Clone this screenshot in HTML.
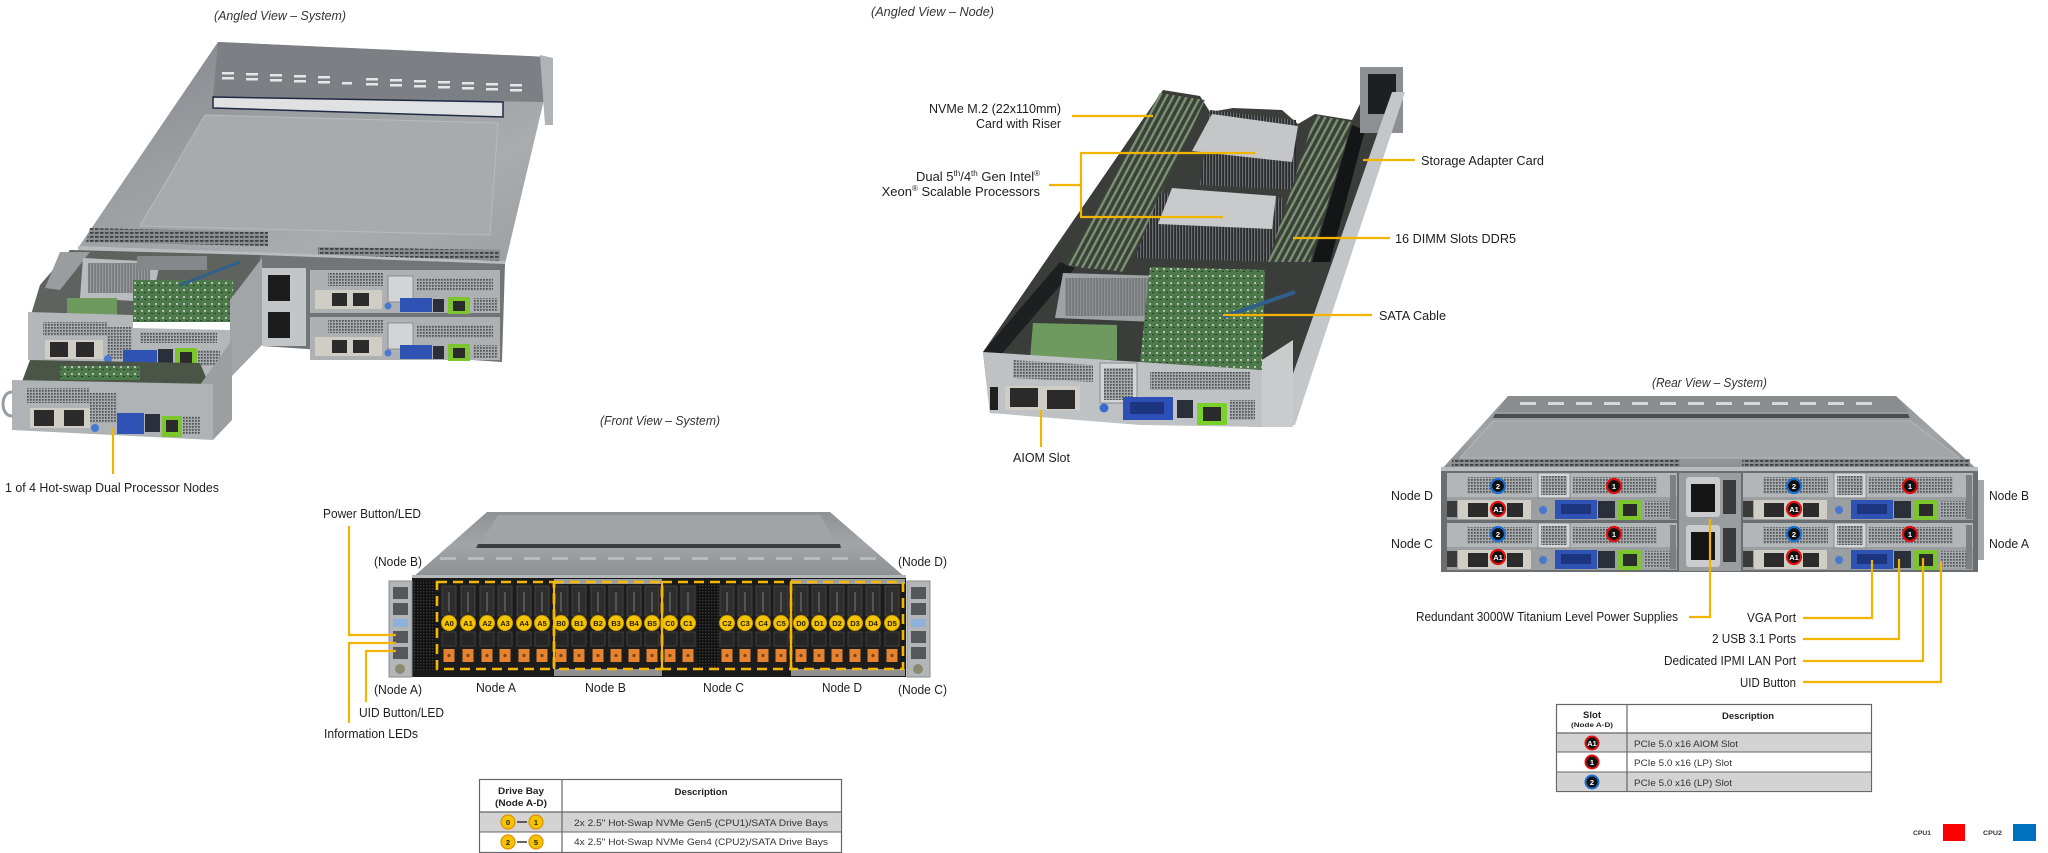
<!DOCTYPE html>
<html><head><meta charset="utf-8">
<style>
html,body{margin:0;padding:0;background:#fff;}
body{width:2048px;height:853px;overflow:hidden;}
svg{display:block}
text{font-family:"Liberation Sans",Arial,sans-serif;}
.l{font-size:13px;fill:#1e1e1e;}
.ti{font-size:13px;font-style:italic;fill:#333;}
.ld{fill:none;stroke:#f2b400;stroke-width:2.2;}
.bc{font-size:7.5px;font-weight:bold;fill:#2b2000;text-anchor:middle;}
.wc{font-size:7.5px;font-weight:bold;fill:#fff;text-anchor:middle;}
.tb{font-size:9.5px;fill:#333;}
.th{font-size:9.5px;font-weight:bold;fill:#222;text-anchor:middle;}
</style></head><body>
<svg width="2048" height="853" viewBox="0 0 2048 853" xmlns="http://www.w3.org/2000/svg">
<defs>
<linearGradient id="gCover" x1="0" y1="0" x2="1" y2="1">
<stop offset="0" stop-color="#7f8286"/><stop offset=".35" stop-color="#9a9da0"/><stop offset=".7" stop-color="#a9acaf"/><stop offset="1" stop-color="#9c9fa2"/></linearGradient>
<linearGradient id="gTop" x1="0" y1="0" x2="0" y2="1">
<stop offset="0" stop-color="#8f9295"/><stop offset=".5" stop-color="#a2a5a8"/><stop offset="1" stop-color="#8c8f92"/></linearGradient>
<pattern id="vent" width="5" height="4" patternUnits="userSpaceOnUse"><rect width="5" height="4" fill="#8a8d90"/><rect width="3.5" height="1.8" fill="#3e4144"/></pattern>
<pattern id="grill" width="3" height="3" patternUnits="userSpaceOnUse"><rect width="3" height="3" fill="#a6a9ab"/><rect width="1.7" height="1.7" fill="#505356"/></pattern>
<pattern id="mesh" width="3" height="3" patternUnits="userSpaceOnUse"><rect width="3" height="3" fill="#111"/><rect width="1.4" height="1.4" fill="#3a3a3a"/></pattern>
<pattern id="dimm" width="6" height="6" patternUnits="userSpaceOnUse" patternTransform="rotate(28)"><rect width="6" height="6" fill="#39423a"/><rect width="2.4" height="6" fill="#7e9070"/></pattern>
<pattern id="fins" width="3" height="4" patternUnits="userSpaceOnUse"><rect width="3" height="4" fill="#2a2c2d"/><rect width="1.2" height="4" fill="#6d7073"/></pattern>
<pattern id="board" width="7" height="7" patternUnits="userSpaceOnUse"><rect width="7" height="7" fill="#4d7a4b"/><rect x="1" y="2" width="2" height="2" fill="#b9c0b5"/><rect x="4" y="5" width="2" height="1" fill="#2a3a2a"/></pattern>
<g id="bay">
 <rect x="-8.5" y="584" width="17" height="85" fill="#1d1d1d"/>
 <rect x="-7" y="586" width="14" height="30" fill="#2e2e2e" stroke="#4a4a4a" stroke-width=".8"/>
 <rect x="-1" y="592" width="2" height="20" fill="#555"/>
 <rect x="-7" y="632" width="14" height="14" fill="#262626" stroke="#474747" stroke-width=".8"/>
 <rect x="-5.5" y="649" width="11" height="13" fill="#e58330"/>
 <circle cx="0" cy="655.5" r="1.6" fill="#7a4412"/>
 <circle cx="0" cy="623" r="7.6" fill="#f4c400" stroke="#c99400" stroke-width=".8"/>
</g>
<g id="rnode">
 <rect x="0" y="0" width="230" height="47" fill="#b3b6b8"/>
 <rect x="0" y="24" width="230" height="23" fill="#9c9fa1"/>
 <rect x="20" y="4" width="65" height="17" fill="url(#grill)"/>
 <rect x="91" y="0" width="32" height="25" fill="#d4d6d7" stroke="#7a7d80" stroke-width=".8"/>
 <rect x="94" y="3" width="26" height="19" fill="url(#grill)"/>
 <rect x="126" y="4" width="84" height="17" fill="url(#grill)"/>
 <rect x="223" y="2" width="6" height="44" fill="#7d8083"/>
 <rect x="0" y="28" width="10" height="16" fill="#3a3a3a"/>
 <rect x="11" y="27" width="73" height="19" fill="#cfcdc4"/>
 <rect x="21" y="30" width="20" height="14" fill="#2b2b2b"/>
 <rect x="60" y="30" width="16" height="14" fill="#2b2b2b"/>
 <circle cx="96" cy="37" r="4" fill="#4a78d0"/>
 <rect x="108" y="27" width="42" height="19" fill="#2f52b5"/>
 <rect x="114" y="31" width="30" height="10" fill="#1d357e"/>
 <rect x="151" y="28" width="17" height="17" fill="#2a2f3a"/>
 <rect x="171" y="27" width="24" height="20" fill="#7cc52c"/>
 <rect x="176" y="31" width="14" height="12" fill="#2b2b2b"/>
 <rect x="197" y="28" width="26" height="17" fill="url(#grill)"/>
</g>
</defs>

<!-- ================= ANGLED SYSTEM ================= -->
<text class="ti" x="214" y="20" textLength="132" lengthAdjust="spacingAndGlyphs">(Angled View – System)</text>
<polygon points="218,42 548,57 553,62 505,264 78,248" fill="url(#gCover)"/>
<polygon points="218,42 548,57 546,102 213,97" fill="#7c7f83"/>
<g fill="#e4e6e7">
<rect x="222" y="72" width="12" height="2.5"/><rect x="222" y="77" width="12" height="2.5"/>
<rect x="246" y="73" width="12" height="2.5"/><rect x="246" y="78" width="12" height="2.5"/>
<rect x="270" y="74" width="12" height="2.5"/><rect x="270" y="79" width="12" height="2.5"/>
<rect x="294" y="75" width="12" height="2.5"/><rect x="294" y="80" width="12" height="2.5"/>
<rect x="318" y="76" width="12" height="2.5"/><rect x="318" y="81" width="12" height="2.5"/>
<rect x="342" y="82" width="10" height="2.5"/>
<rect x="366" y="78" width="12" height="2.5"/><rect x="366" y="83" width="12" height="2.5"/>
<rect x="390" y="79" width="12" height="2.5"/><rect x="390" y="84" width="12" height="2.5"/>
<rect x="414" y="80" width="12" height="2.5"/><rect x="414" y="85" width="12" height="2.5"/>
<rect x="438" y="81" width="12" height="2.5"/><rect x="438" y="86" width="12" height="2.5"/>
<rect x="462" y="82" width="12" height="2.5"/><rect x="462" y="87" width="12" height="2.5"/>
<rect x="486" y="83" width="12" height="2.5"/><rect x="486" y="88" width="12" height="2.5"/>
<rect x="510" y="84" width="12" height="2.5"/><rect x="510" y="89" width="12" height="2.5"/>
</g>
<polygon points="213,97 503,102 503,117 213,108" fill="#dfe1e3" stroke="#1e2a45" stroke-width="1.5"/>
<polygon points="205,115 498,123 490,235 140,226" fill="#a8abae" stroke="#b8bbbe" stroke-width="1"/>
<polygon points="540,55 553,58 553,125 545,125" fill="#b0b3b5"/>
<polygon points="90,228 268,232 268,246 86,242" fill="url(#vent)"/>
<polygon points="318,247 500,250 500,262 318,259" fill="url(#vent)"/>
<polygon points="78,246 505,261 505,266 78,251" fill="#b9bcbe"/>
<!-- rear right half -->
<polygon points="260,255 505,264 502,362 262,346" fill="#727578"/>
<rect x="262" y="268" width="44" height="78" fill="#c3c6c8"/>
<rect x="268" y="275" width="22" height="26" fill="#1c1c1c"/>
<rect x="268" y="312" width="22" height="26" fill="#1c1c1c"/>
<g>
<rect x="310" y="270" width="190" height="43" fill="#aeb1b3"/>
<rect x="328" y="273" width="55" height="13" fill="url(#grill)"/>
<rect x="388" y="276" width="25" height="26" fill="#d2d4d5" stroke="#777" stroke-width=".7"/>
<rect x="417" y="278" width="76" height="13" fill="url(#grill)"/>
<rect x="315" y="290" width="67" height="19" fill="#cfcdc4"/>
<rect x="332" y="293" width="15" height="13" fill="#2b2b2b"/><rect x="353" y="293" width="16" height="13" fill="#2b2b2b"/>
<circle cx="388" cy="306" r="3.5" fill="#4a78d0"/>
<rect x="400" y="298" width="32" height="14" fill="#2f52b5"/>
<rect x="433" y="299" width="11" height="13" fill="#2a2f3a"/>
<rect x="448" y="297" width="22" height="17" fill="#7cc52c"/><rect x="453" y="301" width="12" height="10" fill="#2b2b2b"/>
<rect x="473" y="298" width="25" height="13" fill="url(#grill)"/>
</g>
<g transform="translate(0,47)">
<rect x="310" y="270" width="190" height="43" fill="#aeb1b3"/>
<rect x="328" y="273" width="55" height="13" fill="url(#grill)"/>
<rect x="388" y="276" width="25" height="26" fill="#d2d4d5" stroke="#777" stroke-width=".7"/>
<rect x="417" y="278" width="76" height="13" fill="url(#grill)"/>
<rect x="315" y="290" width="67" height="19" fill="#cfcdc4"/>
<rect x="332" y="293" width="15" height="13" fill="#2b2b2b"/><rect x="353" y="293" width="16" height="13" fill="#2b2b2b"/>
<circle cx="388" cy="306" r="3.5" fill="#4a78d0"/>
<rect x="400" y="298" width="32" height="14" fill="#2f52b5"/>
<rect x="433" y="299" width="11" height="13" fill="#2a2f3a"/>
<rect x="448" y="297" width="22" height="17" fill="#7cc52c"/><rect x="453" y="301" width="12" height="10" fill="#2b2b2b"/>
<rect x="473" y="298" width="25" height="13" fill="url(#grill)"/>
</g>
<!-- upper pulled node -->
<polygon points="70,250 260,255 260,300 230,322 30,318 40,285" fill="#5f635f"/>
<polygon points="60,252 90,252 60,290 45,288" fill="#9a9d9f"/>
<polygon points="83,258 160,262 152,302 80,298" fill="#b9bcbe"/>
<rect x="88" y="263" width="62" height="30" fill="url(#fins)" opacity=".45"/>
<rect x="137" y="256" width="70" height="14" fill="#85888b"/>
<rect x="133" y="280" width="100" height="42" fill="url(#board)"/>
<rect x="67" y="298" width="50" height="22" fill="#6f9a5f"/>
<line x1="180" y1="285" x2="240" y2="262" stroke="#2f5f8a" stroke-width="3"/>
<polygon points="230,300 262,258 262,345 230,378" fill="#a2a5a7"/>
<polygon points="28,312 133,315 133,328 230,330 230,378 110,376 110,363 28,360" fill="#b4b7b9"/>
<rect x="43" y="322" width="64" height="14" fill="url(#grill)"/>
<rect x="45" y="340" width="58" height="19" fill="#cfcdc4"/>
<rect x="50" y="342" width="18" height="15" fill="#2b2b2b"/><rect x="76" y="342" width="18" height="15" fill="#2b2b2b"/>
<rect x="107" y="327" width="25" height="32" fill="url(#grill)"/>
<circle cx="108" cy="359" r="4" fill="#4a78d0"/>
<rect x="140" y="332" width="77" height="11" fill="url(#grill)"/>
<rect x="123" y="350" width="34" height="17" fill="#2f52b5"/>
<rect x="158" y="349" width="15" height="17" fill="#2a2f3a"/>
<rect x="175" y="348" width="22" height="20" fill="#7cc52c"/><rect x="180" y="352" width="12" height="11" fill="#2b2b2b"/>
<rect x="198" y="350" width="22" height="16" fill="url(#grill)"/>
<!-- lower pulled node -->
<polygon points="30,360 200,363 210,387 20,387" fill="#4a5548"/>
<rect x="60" y="366" width="80" height="14" fill="url(#board)"/>
<polygon points="200,385 232,340 232,420 213,440" fill="#9c9fa2"/>
<polygon points="12,380 213,384 213,440 12,430" fill="#b0b3b5"/>
<rect x="27" y="388" width="63" height="15" fill="url(#grill)"/>
<rect x="30" y="408" width="60" height="20" fill="#cfcdc4"/>
<rect x="34" y="410" width="20" height="16" fill="#2b2b2b"/><rect x="64" y="410" width="20" height="16" fill="#2b2b2b"/>
<rect x="90" y="393" width="27" height="30" fill="url(#grill)"/>
<circle cx="95" cy="428" r="4" fill="#4a78d0"/>
<rect x="117" y="413" width="27" height="21" fill="#2f52b5"/>
<rect x="145" y="414" width="15" height="18" fill="#2a2f3a"/>
<rect x="162" y="416" width="20" height="21" fill="#7cc52c"/><rect x="166" y="420" width="12" height="12" fill="#2b2b2b"/>
<rect x="183" y="416" width="17" height="18" fill="url(#grill)"/>
<path d="M12,392 C0,392 0,416 12,416" fill="none" stroke="#9a9da0" stroke-width="3"/>
<line class="ld" x1="113" y1="428" x2="113" y2="474"/>
<text class="l" x="5" y="492" textLength="214" lengthAdjust="spacingAndGlyphs">1 of 4 Hot-swap  Dual Processor Nodes</text>

<!-- ================= ANGLED NODE ================= -->
<text class="ti" x="871" y="16" textLength="123" lengthAdjust="spacingAndGlyphs">(Angled View – Node)</text>
<polygon points="1163,90 1200,96 1210,112 1233,108 1282,110 1298,124 1315,114 1352,120 1362,100 1362,67 1403,67 1403,100 1290,420 1262,427 990,413 983,352" fill="#3a3d3a"/>
<polygon points="983,352 1060,262 1075,268 1000,356" fill="#1e1f20"/>
<polygon points="1160,93 1205,100 1125,272 1065,265" fill="url(#dimm)"/>
<polygon points="1143,160 1175,165 1110,270 1080,268" fill="url(#dimm)" opacity=".8"/>
<polygon points="1210,110 1296,120 1296,190 1200,185" fill="url(#fins)"/>
<polygon points="1212,114 1298,126 1292,162 1192,151" fill="#c4c6c7"/>
<polygon points="1160,193 1282,198 1282,262 1135,258" fill="url(#fins)"/>
<polygon points="1172,188 1276,196 1272,229 1158,224" fill="#c8cacb"/>
<polygon points="1315,115 1352,122 1310,262 1268,262" fill="url(#dimm)"/>
<polygon points="1352,125 1365,130 1330,262 1312,262" fill="#141516"/>
<polygon points="1360,67 1403,67 1403,133 1360,133" fill="#8d9093"/>
<rect x="1368" y="74" width="28" height="40" fill="#1e1f20"/>
<polygon points="1392,92 1405,92 1295,425 1275,425" fill="#c4c7c9"/>
<polygon points="1063,273 1163,276 1155,322 1055,318" fill="#9fa2a4"/>
<rect x="1065" y="278" width="88" height="38" fill="url(#fins)" opacity=".35"/>
<polygon points="1150,267 1265,270 1262,370 1140,362" fill="url(#board)"/>
<polygon points="1033,323 1117,325 1117,360 1030,358" fill="#6f9a5f"/>
<line x1="1223" y1="317" x2="1295" y2="292" stroke="#2f5f8a" stroke-width="4"/>
<polygon points="1262,360 1293,340 1293,427 1262,427" fill="#c9cbcd"/>
<polygon points="983,352 1140,362 1262,370 1262,427 1140,425 990,413" fill="#bfc2c4"/>
<polygon points="1013,360 1093,365 1093,382 1013,378" fill="url(#grill)"/>
<rect x="990" y="387" width="8" height="23" fill="#1f1f1f"/>
<rect x="1005" y="386" width="75" height="24" fill="#cfcdc4"/>
<rect x="1010" y="388" width="28" height="19" fill="#2a2a2a"/><rect x="1047" y="390" width="28" height="19" fill="#2a2a2a"/>
<rect x="1100" y="363" width="37" height="40" fill="#d2d4d5" stroke="#777" stroke-width=".8"/>
<rect x="1104" y="368" width="29" height="32" fill="url(#grill)"/>
<circle cx="1104" cy="408" r="4.5" fill="#3c6ad0"/>
<rect x="1123" y="397" width="50" height="23" fill="#2d4fb8"/>
<rect x="1130" y="402" width="34" height="12" fill="#1d357e"/>
<rect x="1177" y="400" width="16" height="18" fill="#2a2f3a"/>
<rect x="1197" y="403" width="30" height="22" fill="#79d12a"/><rect x="1203" y="407" width="18" height="14" fill="#2b2b2b"/>
<rect x="1150" y="372" width="100" height="18" fill="url(#grill)"/>
<rect x="1230" y="400" width="25" height="20" fill="url(#grill)"/>
<!-- node leaders -->
<line class="ld" x1="1072" y1="116" x2="1153" y2="116"/>
<polyline class="ld" points="1255,153 1081,153 1081,217 1223,217"/>
<line class="ld" x1="1049" y1="185" x2="1081" y2="185"/>
<line class="ld" x1="1363" y1="160" x2="1415" y2="160"/>
<line class="ld" x1="1293" y1="238" x2="1390" y2="238"/>
<line class="ld" x1="1223" y1="315" x2="1372" y2="315"/>
<line class="ld" x1="1041" y1="410" x2="1041" y2="447"/>
<text class="l" x="1061" y="113" text-anchor="end" textLength="132" lengthAdjust="spacingAndGlyphs">NVMe M.2 (22x110mm)</text>
<text class="l" x="1061" y="128" text-anchor="end" textLength="85" lengthAdjust="spacingAndGlyphs">Card with Riser</text>
<text class="l" x="1040" y="181" text-anchor="end">Dual 5<tspan font-size="8" dy="-5">th</tspan><tspan dy="5">/4</tspan><tspan font-size="8" dy="-5">th</tspan><tspan dy="5"> Gen Intel</tspan><tspan font-size="8" dy="-5">®</tspan></text>
<text class="l" x="1040" y="196" text-anchor="end">Xeon<tspan font-size="8" dy="-5">®</tspan><tspan dy="5"> Scalable Processors</tspan></text>
<text class="l" x="1421" y="165" textLength="123" lengthAdjust="spacingAndGlyphs">Storage Adapter Card</text>
<text class="l" x="1395" y="243" textLength="121" lengthAdjust="spacingAndGlyphs">16 DIMM Slots DDR5</text>
<text class="l" x="1379" y="320" textLength="67" lengthAdjust="spacingAndGlyphs">SATA Cable</text>
<text class="l" x="1013" y="462" textLength="57" lengthAdjust="spacingAndGlyphs">AIOM Slot</text>

<!-- ================= FRONT VIEW ================= -->
<text class="ti" x="600" y="425" textLength="120" lengthAdjust="spacingAndGlyphs">(Front View – System)</text>
<polygon points="487,512 830,512 906,578 412,578" fill="url(#gTop)"/>
<polygon points="498,515 820,515 836,544 480,544" fill="#a1a4a7"/>
<polygon points="478,544 840,544 841,548 476,548" fill="#3c3e40"/>
<g fill="#b8bbbd">
<rect x="440" y="557" width="16" height="3"/><rect x="468" y="557" width="16" height="3"/><rect x="496" y="557" width="16" height="3"/><rect x="524" y="557" width="16" height="3"/><rect x="552" y="557" width="16" height="3"/><rect x="580" y="557" width="16" height="3"/><rect x="608" y="557" width="16" height="3"/><rect x="636" y="557" width="16" height="3"/><rect x="664" y="557" width="16" height="3"/><rect x="692" y="557" width="16" height="3"/><rect x="720" y="557" width="16" height="3"/><rect x="748" y="557" width="16" height="3"/><rect x="776" y="557" width="16" height="3"/><rect x="804" y="557" width="16" height="3"/><rect x="832" y="557" width="16" height="3"/><rect x="860" y="557" width="16" height="3"/>
</g>
<rect x="412" y="575" width="494" height="4" fill="#b5b8ba"/>
<rect x="412" y="578" width="494" height="99" fill="#1a1a1a"/>
<rect x="414" y="580" width="23" height="90" fill="url(#mesh)"/>
<rect x="697" y="582" width="22" height="88" fill="url(#mesh)"/>
<rect x="554" y="579" width="108" height="5" fill="#9a9c9e"/>
<rect x="554" y="669" width="108" height="7" fill="#8e9092"/>
<rect x="791" y="579" width="114" height="5" fill="#9a9c9e"/>
<rect x="791" y="669" width="114" height="7" fill="#8e9092"/>
<!-- ears -->
<rect x="389" y="581" width="23" height="96" fill="#b3b6b8" stroke="#8a8d90" stroke-width="1"/>
<rect x="393" y="587" width="15" height="12" fill="#55585b"/><rect x="393" y="603" width="15" height="12" fill="#55585b"/>
<rect x="393" y="619" width="15" height="8" fill="#8fb0d8"/>
<rect x="393" y="631" width="15" height="12" fill="#55585b"/><rect x="393" y="647" width="15" height="12" fill="#55585b"/>
<circle cx="400" cy="669" r="5" fill="#8a8a70"/>
<rect x="907" y="581" width="23" height="96" fill="#b3b6b8" stroke="#8a8d90" stroke-width="1"/>
<rect x="911" y="587" width="15" height="12" fill="#55585b"/><rect x="911" y="603" width="15" height="12" fill="#55585b"/>
<rect x="911" y="619" width="15" height="8" fill="#8fb0d8"/>
<rect x="911" y="631" width="15" height="12" fill="#55585b"/><rect x="911" y="647" width="15" height="12" fill="#55585b"/>
<circle cx="918" cy="669" r="5" fill="#8a8a70"/>
<!-- bays -->
<use href="#bay" x="449"/><use href="#bay" x="468"/><use href="#bay" x="487"/><use href="#bay" x="505"/><use href="#bay" x="524"/><use href="#bay" x="542"/>
<use href="#bay" x="561"/><use href="#bay" x="579"/><use href="#bay" x="598"/><use href="#bay" x="616"/><use href="#bay" x="634"/><use href="#bay" x="652"/>
<use href="#bay" x="670"/><use href="#bay" x="688"/><use href="#bay" x="727"/><use href="#bay" x="745"/><use href="#bay" x="763"/><use href="#bay" x="781"/>
<use href="#bay" x="801"/><use href="#bay" x="819"/><use href="#bay" x="837"/><use href="#bay" x="855"/><use href="#bay" x="873"/><use href="#bay" x="892"/>
<g class="bc">
<text class="bc" x="449" y="626">A0</text><text class="bc" x="468" y="626">A1</text><text class="bc" x="487" y="626">A2</text><text class="bc" x="505" y="626">A3</text><text class="bc" x="524" y="626">A4</text><text class="bc" x="542" y="626">A5</text>
<text class="bc" x="561" y="626">B0</text><text class="bc" x="579" y="626">B1</text><text class="bc" x="598" y="626">B2</text><text class="bc" x="616" y="626">B3</text><text class="bc" x="634" y="626">B4</text><text class="bc" x="652" y="626">B5</text>
<text class="bc" x="670" y="626">C0</text><text class="bc" x="688" y="626">C1</text><text class="bc" x="727" y="626">C2</text><text class="bc" x="745" y="626">C3</text><text class="bc" x="763" y="626">C4</text><text class="bc" x="781" y="626">C5</text>
<text class="bc" x="801" y="626">D0</text><text class="bc" x="819" y="626">D1</text><text class="bc" x="837" y="626">D2</text><text class="bc" x="855" y="626">D3</text><text class="bc" x="873" y="626">D4</text><text class="bc" x="892" y="626">D5</text>
</g>
<g fill="none" stroke="#f5b800" stroke-width="2.6" stroke-dasharray="10,6">
<rect x="437" y="582" width="117" height="87"/>
<rect x="554" y="582" width="108" height="87"/>
<rect x="662" y="582" width="129" height="87"/>
<rect x="791" y="582" width="112" height="87"/>
</g>
<line x1="554" y1="582" x2="554" y2="669" stroke="#f5b800" stroke-width="2"/>
<line x1="662" y1="582" x2="662" y2="669" stroke="#f5b800" stroke-width="2"/>
<line x1="791" y1="582" x2="791" y2="669" stroke="#f5b800" stroke-width="2"/>
<polyline class="ld" points="349,526 349,635 396,635"/>
<polyline class="ld" points="396,643 349,643 349,723"/>
<polyline class="ld" points="396,651 366,651 366,702"/>
<text class="l" x="323" y="518" textLength="98" lengthAdjust="spacingAndGlyphs">Power Button/LED</text>
<text class="l" x="374" y="566" textLength="48" lengthAdjust="spacingAndGlyphs">(Node B)</text>
<text class="l" x="898" y="566" textLength="49" lengthAdjust="spacingAndGlyphs">(Node D)</text>
<text class="l" x="374" y="694" textLength="48" lengthAdjust="spacingAndGlyphs">(Node A)</text>
<text class="l" x="898" y="694" textLength="49" lengthAdjust="spacingAndGlyphs">(Node C)</text>
<text class="l" x="476" y="692" textLength="40" lengthAdjust="spacingAndGlyphs">Node A</text>
<text class="l" x="585" y="692" textLength="41" lengthAdjust="spacingAndGlyphs">Node B</text>
<text class="l" x="703" y="692" textLength="41" lengthAdjust="spacingAndGlyphs">Node C</text>
<text class="l" x="822" y="692" textLength="40" lengthAdjust="spacingAndGlyphs">Node D</text>
<text class="l" x="359" y="717" textLength="85" lengthAdjust="spacingAndGlyphs">UID Button/LED</text>
<text class="l" x="324" y="738" textLength="94" lengthAdjust="spacingAndGlyphs">Information  LEDs</text>

<!-- front table -->
<rect x="479.5" y="779.5" width="362" height="73" fill="#fff" stroke="#666" stroke-width="1.2"/>
<rect x="480" y="812" width="361" height="20" fill="#d3d3d3"/>
<line x1="480" y1="812" x2="841" y2="812" stroke="#666" stroke-width="1.2"/>
<line x1="480" y1="832" x2="841" y2="832" stroke="#666" stroke-width="1"/>
<line x1="562" y1="780" x2="562" y2="852" stroke="#666" stroke-width="1.2"/>
<text class="th" x="521" y="794" textLength="46" lengthAdjust="spacingAndGlyphs">Drive Bay</text>
<text class="th" x="521" y="806" textLength="52" lengthAdjust="spacingAndGlyphs">(Node A-D)</text>
<text class="th" x="701" y="795" textLength="53" lengthAdjust="spacingAndGlyphs">Description</text>
<circle cx="508" cy="822" r="7" fill="#f4c400" stroke="#e09000" stroke-width="1.2"/>
<circle cx="536" cy="822" r="7" fill="#f4c400" stroke="#e09000" stroke-width="1.2"/>
<line x1="517" y1="822" x2="527" y2="822" stroke="#333" stroke-width="1.5"/>
<text class="bc" x="508" y="825">0</text><text class="bc" x="536" y="825">1</text>
<circle cx="508" cy="842" r="7" fill="#f4c400" stroke="#e09000" stroke-width="1.2"/>
<circle cx="536" cy="842" r="7" fill="#f4c400" stroke="#e09000" stroke-width="1.2"/>
<line x1="517" y1="842" x2="527" y2="842" stroke="#333" stroke-width="1.5"/>
<text class="bc" x="508" y="845">2</text><text class="bc" x="536" y="845">5</text>
<text class="tb" x="574" y="826" textLength="254" lengthAdjust="spacingAndGlyphs">2x 2.5" Hot-Swap NVMe Gen5 (CPU1)/SATA Drive Bays</text>
<text class="tb" x="574" y="845" textLength="254" lengthAdjust="spacingAndGlyphs">4x 2.5" Hot-Swap NVMe Gen4 (CPU2)/SATA Drive Bays</text>

<!-- ================= REAR VIEW ================= -->
<text class="ti" x="1652" y="387" textLength="115" lengthAdjust="spacingAndGlyphs">(Rear View – System)</text>
<polygon points="1508,396 1896,396 1978,470 1441,470" fill="url(#gTop)"/>
<polygon points="1508,396 1896,396 1908,412 1497,412" fill="#8a8d90"/>
<g fill="#d5d7d8">
<rect x="1520" y="402" width="16" height="3"/><rect x="1548" y="402" width="16" height="3"/><rect x="1576" y="402" width="16" height="3"/><rect x="1604" y="402" width="16" height="3"/><rect x="1632" y="402" width="16" height="3"/><rect x="1660" y="402" width="16" height="3"/><rect x="1688" y="402" width="16" height="3"/><rect x="1716" y="402" width="16" height="3"/><rect x="1744" y="402" width="16" height="3"/><rect x="1772" y="402" width="16" height="3"/><rect x="1800" y="402" width="16" height="3"/><rect x="1828" y="402" width="16" height="3"/><rect x="1856" y="402" width="16" height="3"/>
</g>
<polygon points="1495,414 1908,414 1910,418 1493,418" fill="#4a4d50"/>
<polygon points="1493,421 1910,421 1960,458 1460,458" fill="#a3a6a9" stroke="#b4b7b9" stroke-width="1"/>
<rect x="1452" y="459" width="228" height="8" fill="url(#vent)"/>
<rect x="1742" y="459" width="228" height="8" fill="url(#vent)"/>
<rect x="1441" y="467" width="537" height="5" fill="#b9bcbe"/>
<rect x="1441" y="471" width="537" height="101" fill="#6b6e71"/>
<rect x="1978" y="480" width="6" height="80" fill="#a5a8aa"/>
<rect x="1679" y="473" width="62" height="98" fill="#9a9da0"/>
<rect x="1686" y="477" width="34" height="40" rx="3" fill="#c9cbcc"/>
<rect x="1691" y="484" width="24" height="28" fill="#151515"/>
<rect x="1686" y="525" width="34" height="42" rx="3" fill="#c9cbcc"/>
<rect x="1691" y="532" width="24" height="28" fill="#151515"/>
<rect x="1723" y="480" width="13" height="34" fill="#3a3a3a"/>
<rect x="1723" y="528" width="13" height="34" fill="#3a3a3a"/>
<use href="#rnode" x="1447" y="473"/>
<use href="#rnode" x="1743" y="473"/>
<use href="#rnode" x="1447" y="523"/>
<use href="#rnode" x="1743" y="523"/>
<g stroke-width="2.2">
<circle cx="1498" cy="486" r="7" fill="#111" stroke="#1a6fd0"/><circle cx="1614" cy="486" r="7" fill="#111" stroke="#e01010"/><circle cx="1498" cy="509" r="7" fill="#111" stroke="#e01010"/>
<circle cx="1794" cy="486" r="7" fill="#111" stroke="#1a6fd0"/><circle cx="1910" cy="486" r="7" fill="#111" stroke="#e01010"/><circle cx="1794" cy="509" r="7" fill="#111" stroke="#e01010"/>
<circle cx="1498" cy="534" r="7" fill="#111" stroke="#1a6fd0"/><circle cx="1614" cy="534" r="7" fill="#111" stroke="#e01010"/><circle cx="1498" cy="557" r="7" fill="#111" stroke="#e01010"/>
<circle cx="1794" cy="534" r="7" fill="#111" stroke="#1a6fd0"/><circle cx="1910" cy="534" r="7" fill="#111" stroke="#e01010"/><circle cx="1794" cy="557" r="7" fill="#111" stroke="#e01010"/>
</g>
<text class="wc" x="1498" y="489">2</text><text class="wc" x="1614" y="489">1</text><text class="wc" x="1498" y="512">A1</text>
<text class="wc" x="1794" y="489">2</text><text class="wc" x="1910" y="489">1</text><text class="wc" x="1794" y="512">A1</text>
<text class="wc" x="1498" y="537">2</text><text class="wc" x="1614" y="537">1</text><text class="wc" x="1498" y="560">A1</text>
<text class="wc" x="1794" y="537">2</text><text class="wc" x="1910" y="537">1</text><text class="wc" x="1794" y="560">A1</text>
<polyline class="ld" points="1710,519 1710,617 1689,617"/>
<polyline class="ld" points="1872,560 1872,618 1803,618"/>
<polyline class="ld" points="1899,559 1899,639 1803,639"/>
<polyline class="ld" points="1923,558 1923,661 1803,661"/>
<polyline class="ld" points="1941,562 1941,682 1803,682"/>
<text class="l" x="1391" y="500" textLength="42" lengthAdjust="spacingAndGlyphs">Node D</text>
<text class="l" x="1391" y="548" textLength="42" lengthAdjust="spacingAndGlyphs">Node C</text>
<text class="l" x="1989" y="500" textLength="40" lengthAdjust="spacingAndGlyphs">Node B</text>
<text class="l" x="1989" y="548" textLength="40" lengthAdjust="spacingAndGlyphs">Node A</text>
<text class="l" x="1678" y="621" text-anchor="end" textLength="262" lengthAdjust="spacingAndGlyphs">Redundant  3000W Titanium  Level Power Supplies</text>
<text class="l" x="1796" y="622" text-anchor="end" textLength="49" lengthAdjust="spacingAndGlyphs">VGA Port</text>
<text class="l" x="1796" y="643" text-anchor="end" textLength="84" lengthAdjust="spacingAndGlyphs">2 USB 3.1 Ports</text>
<text class="l" x="1796" y="665" text-anchor="end" textLength="132" lengthAdjust="spacingAndGlyphs">Dedicated IPMI  LAN Port</text>
<text class="l" x="1796" y="687" text-anchor="end" textLength="56" lengthAdjust="spacingAndGlyphs">UID Button</text>

<!-- rear table -->
<rect x="1556.5" y="704.5" width="315" height="87" fill="#fff" stroke="#666" stroke-width="1.2"/>
<rect x="1557" y="733" width="314" height="19" fill="#d3d3d3"/>
<rect x="1557" y="772" width="314" height="19" fill="#d3d3d3"/>
<line x1="1557" y1="733" x2="1871" y2="733" stroke="#666" stroke-width="1.2"/>
<line x1="1557" y1="752" x2="1871" y2="752" stroke="#666" stroke-width="1"/>
<line x1="1557" y1="772" x2="1871" y2="772" stroke="#666" stroke-width="1"/>
<line x1="1627" y1="705" x2="1627" y2="791" stroke="#666" stroke-width="1.2"/>
<text class="th" x="1592" y="718" textLength="18" lengthAdjust="spacingAndGlyphs">Slot</text>
<text x="1592" y="727" text-anchor="middle" font-size="6.5" font-weight="bold" fill="#222" textLength="42" lengthAdjust="spacingAndGlyphs">(Node A-D)</text>
<text class="th" x="1748" y="719" textLength="52" lengthAdjust="spacingAndGlyphs">Description</text>
<circle cx="1592" cy="743" r="6.5" fill="#111" stroke="#e01010" stroke-width="2"/>
<circle cx="1592" cy="762" r="6.5" fill="#111" stroke="#e01010" stroke-width="2"/>
<circle cx="1592" cy="782" r="6.5" fill="#111" stroke="#1a6fd0" stroke-width="2"/>
<text class="wc" x="1592" y="746" font-size="7">A1</text><text class="wc" x="1592" y="765">1</text><text class="wc" x="1592" y="785">2</text>
<text class="tb" x="1634" y="747" textLength="104" lengthAdjust="spacingAndGlyphs">PCIe 5.0 x16 AIOM Slot</text>
<text class="tb" x="1634" y="766" textLength="98" lengthAdjust="spacingAndGlyphs">PCIe 5.0 x16 (LP) Slot</text>
<text class="tb" x="1634" y="786" textLength="98" lengthAdjust="spacingAndGlyphs">PCIe 5.0 x16 (LP) Slot</text>

<!-- CPU legend -->
<text x="1913" y="835" font-size="6.5" font-weight="bold" fill="#333" textLength="18" lengthAdjust="spacingAndGlyphs">CPU1</text>
<rect x="1943" y="824" width="22" height="17" fill="#ff0000"/>
<text x="1983" y="835" font-size="6.5" font-weight="bold" fill="#333" textLength="19" lengthAdjust="spacingAndGlyphs">CPU2</text>
<rect x="2013" y="824" width="23" height="17" fill="#0070c0"/>
</svg>
</body></html>
